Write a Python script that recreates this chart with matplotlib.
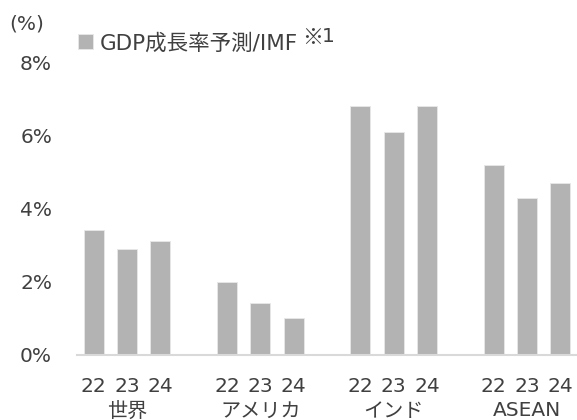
import numpy as np
import matplotlib.pyplot as plt

plt.rcParams['font.family'] = ['DejaVu Sans', 'Noto Sans CJK JP']

regions = ['世界', 'アメリカ', 'インド', 'ASEAN']
years = ['22', '23', '24']
world = [3.4, 2.9, 3.1]
usa = [2.0, 1.4, 1.0]
india = [6.8, 6.1, 6.8]
asean = [5.2, 4.3, 4.7]
yticks = [0, 2, 4, 6, 8]

series = [world, usa, india, asean]
text_color = '#404040'
bar_color = '#b3b3b3'
fs = 14.5

W, H = 577, 420
fig = plt.figure(figsize=(W / 100, H / 100), dpi=100)
# axes in pixel terms: left 77, baseline at 354.5, 8% line at 62.5
ax = fig.add_axes([77 / W, 1 - 354.5 / H, 1 - 77 / W, 292 / H])

# 3 bars per group plus one empty slot between groups
xs, hs, labels = [], [], []
for g, vals in enumerate(series):
    for i, v in enumerate(vals):
        xs.append(g * 4 + i)
        hs.append(v)
        labels.append(years[i])

bars = ax.bar(xs, hs, width=0.6, color=bar_color, edgecolor='#e8e8e8', linewidth=0.6,
              label='GDP成長率予測/IMF')

ax.set_xlim(-0.5, 14.5)
ax.set_ylim(0, 8)
ax.set_yticks(yticks)
ax.set_yticklabels([f'{t}%' for t in yticks], fontsize=fs, color=text_color)
ax.set_xticks([])
ax.tick_params(axis='both', length=0)
ax.tick_params(axis='y', pad=18)

for s in ['top', 'right', 'left']:
    ax.spines[s].set_visible(False)
ax.spines['bottom'].set_color('#d9d9d9')
ax.spines['bottom'].set_linewidth(1.5)

xt = ax.get_xaxis_transform()
for x, lab in zip(xs, labels):
    ax.text(x, (354.5 - 385) / 292, lab, transform=xt, ha='center', va='center_baseline',
            fontsize=fs, color=text_color)
for g, name in enumerate(regions):
    ax.text(g * 4 + 1, (354.5 - 409) / 292, name, transform=xt,
            ha='center', va='center_baseline', fontsize=fs, color=text_color)

fig.text(9 / W, 1 - 22 / H, '(%)', fontsize=fs, color=text_color, va='center_baseline', ha='left')

leg = ax.legend(handles=[bars], loc='center left', bbox_to_anchor=(78 / W, 1 - 43 / H),
                bbox_transform=fig.transFigure, frameon=False, fontsize=15.5,
                handlelength=0.7, handleheight=0.7, handletextpad=0.3, borderaxespad=0,
                borderpad=0, labelcolor=text_color)
fig.text(302 / W, 1 - 35 / H, '※', fontsize=15, color=text_color, va='center_baseline',
         ha='left', family=['Noto Sans CJK JP'])
fig.text(322 / W, 1 - 35 / H, '1', fontsize=fs, color=text_color, va='center_baseline', ha='left')

fig.savefig('out.png', dpi=100)
